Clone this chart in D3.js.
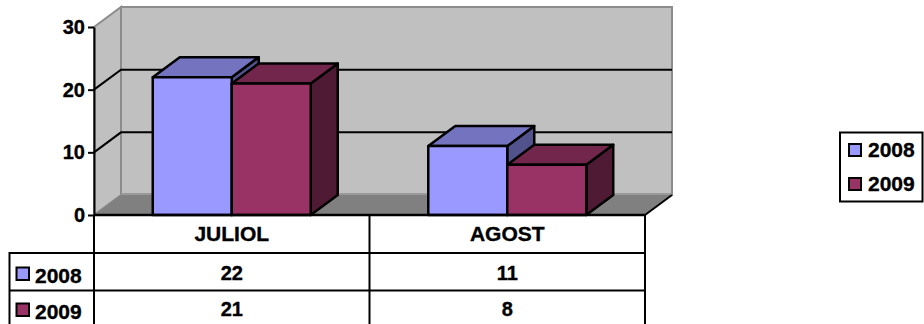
<!DOCTYPE html>
<html><head><meta charset="utf-8">
<script src="https://cdn.jsdelivr.net/npm/d3@7/dist/d3.min.js"></script>
<style>html,body{margin:0;padding:0;background:#fff}svg{display:block}text{font-family:"Liberation Sans",Arial,sans-serif;font-weight:700;fill:#000;stroke:#000;stroke-width:0.35px}</style>
</head><body><svg id="c" width="924" height="324"></svg>
<script>
const categories = ["JULIOL", "AGOST"];
const seriesNames = ["2008", "2009"];
const values2008 = [22, 11];
const values2009 = [21, 8];
const yTicks = [0, 10, 20, 30];
const seriesValues = [values2008, values2009];
const faces = [
  {front:"#9999ff", top:"#7373bf", side:"#52528c"},
  {front:"#993366", top:"#73264c", side:"#4f1a33"}
];
const svg = d3.select("#c");
const H = 324;
const dx = 27, dy = -20;
const y = d3.scaleLinear().domain([0,30]).range([215,27]);
const x = d3.scaleBand().domain(categories).range([94,645]);
const xs = d3.scaleBand().domain(seriesNames).range([0,x.bandwidth()]).paddingInner(0).paddingOuter(0.744);
const poly = pts => pts.map(p=>p.join(",")).join(" ");

const x0=94,x1=645,y0=y(0),yT=y(30);
svg.append("polygon").attr("points",poly([[x0+dx,yT+dy],[x1+dx,yT+dy],[x1+dx,y0+dy],[x0+dx,y0+dy]])).attr("fill","#c0c0c0").attr("stroke","#8c8c8c").attr("stroke-width",2);
svg.append("polygon").attr("points",poly([[x0,yT],[x0+dx,yT+dy],[x0+dx,y0+dy],[x0,y0]])).attr("fill","#c0c0c0").attr("stroke","#8c8c8c").attr("stroke-width",2);
svg.append("polygon").attr("points",poly([[x0,y0],[x0+dx,y0+dy],[x1+dx,y0+dy],[x1,y0]])).attr("fill","#808080");
svg.append("line").attr("x1",x0+dx).attr("x2",x1+dx).attr("y1",y0+dy-1).attr("y2",y0+dy-1).attr("stroke","#999").attr("stroke-width",2);
svg.append("line").attr("x1",x1).attr("y1",y0).attr("x2",x1+dx).attr("y2",y0+dy).attr("stroke","#000").attr("stroke-width",2);

yTicks.filter(t=>t>0&&t<30).forEach(t=>{
  svg.append("polyline").attr("points",poly([[x0,y(t)],[x0+dx,y(t)+dy],[x1+dx,y(t)+dy]])).attr("fill","none").attr("stroke","#000").attr("stroke-width",2);
});

categories.forEach((c,ci)=>{
  seriesNames.forEach((s,si)=>{
    const v=seriesValues[si][ci];
    const l=x(c)+xs(s), r=l+xs.bandwidth(), t=y(v), b=y(0);
    const f=faces[si];
    const g=svg.append("g").attr("stroke","#000").attr("stroke-width",2.5).attr("stroke-linejoin","round");
    g.append("polygon").attr("points",poly([[r,b],[r+dx,b+dy],[r+dx,t+dy],[r,t]])).attr("fill",f.side);
    g.append("polygon").attr("points",poly([[l,t],[l+dx,t+dy],[r+dx,t+dy],[r,t]])).attr("fill",f.top);
    g.append("rect").attr("x",l).attr("y",t).attr("width",r-l).attr("height",b-t).attr("fill",f.front);
  });
});

const yAxis = d3.axisLeft(y).tickValues(yTicks).tickSize(6).tickSizeOuter(0).tickPadding(3);
const ga = svg.append("g").attr("transform","translate(94,0)").call(yAxis);
ga.selectAll("path,line").attr("stroke","#000").attr("stroke-width",2);
ga.selectAll("text").style("font-size","20px").style("font-family",'"Liberation Sans",Arial,sans-serif');

const rowY = [215,253,290.5];
const tbl = svg.append("g").attr("stroke","#000").attr("stroke-width",2);
tbl.append("line").attr("x1",94).attr("x2",645).attr("y1",rowY[0]).attr("y2",rowY[0]).attr("stroke-width",2.5);
[rowY[1],rowY[2]].forEach(v=>tbl.append("line").attr("x1",9.5).attr("x2",645).attr("y1",v).attr("y2",v));
tbl.append("line").attr("x1",9.5).attr("x2",9.5).attr("y1",rowY[1]-1).attr("y2",H);
categories.concat([null]).forEach(c=>{
  const xp = c===null ? x1 : x(c);
  tbl.append("line").attr("x1",xp).attr("x2",xp).attr("y1",y0).attr("y2",H);
});
categories.forEach((c,ci)=>{
  const cx=x(c)+x.bandwidth()/2;
  svg.append("text").attr("x",cx).attr("y",241).attr("text-anchor","middle").attr("font-size",21).text(c);
  seriesNames.forEach((s,si)=>{
    svg.append("text").attr("x",cx).attr("y",[280,316][si]).attr("text-anchor","middle").attr("font-size",20).text(seriesValues[si][ci]);
  });
});
seriesNames.forEach((s,si)=>{
  const by=[283,319][si];
  svg.append("rect").attr("x",16.5).attr("y",by-15.5).attr("width",12.5).attr("height",12.5).attr("fill",faces[si].front).attr("stroke","#000").attr("stroke-width",2);
  svg.append("text").attr("x",35).attr("y",by).attr("font-size",21).text(s);
});

const lg = svg.append("g");
lg.append("rect").attr("x",840).attr("y",132.5).attr("width",82.5).attr("height",69).attr("fill","#fff").attr("stroke","#000").attr("stroke-width",2);
seriesNames.forEach((s,si)=>{
  const by=[157,191][si];
  lg.append("rect").attr("x",849).attr("y",by-13).attr("width",12).attr("height",12).attr("fill",faces[si].front).attr("stroke","#000").attr("stroke-width",2);
  lg.append("text").attr("x",868).attr("y",by).attr("font-size",21).text(s);
});
</script></body></html>
